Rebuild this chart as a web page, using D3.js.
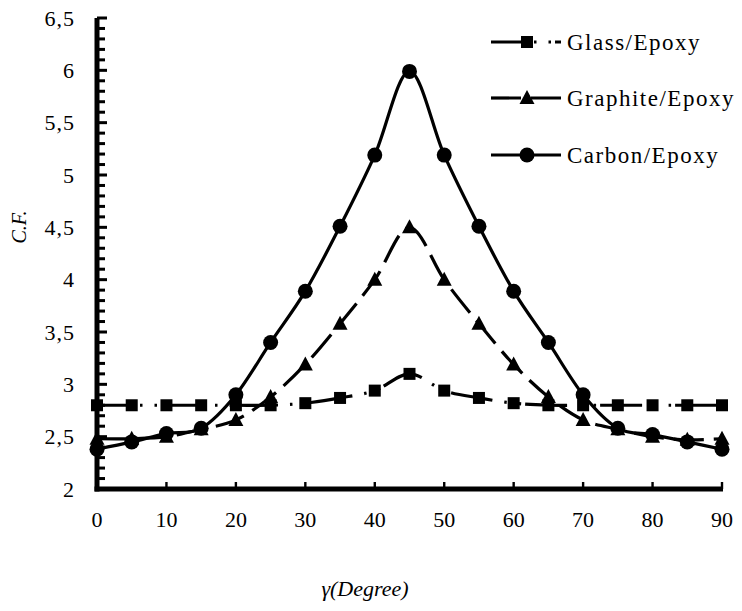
<!DOCTYPE html>
<html>
<head>
<meta charset="utf-8">
<script src="https://cdn.jsdelivr.net/npm/d3@7"></script>
<style>
  html, body { margin: 0; padding: 0; background: #fff; overflow: hidden; }
  svg { display: block; }
</style>
</head>
<body>
<svg id="chart" width="742" height="611" viewBox="0 0 742 611"></svg>
<script>
// ---- data ----
const angles = [0, 5, 10, 15, 20, 25, 30, 35, 40, 45, 50, 55, 60, 65, 70, 75, 80, 85, 90];
const glassEpoxy    = [2.80, 2.80, 2.80, 2.80, 2.80, 2.80, 2.82, 2.87, 2.94, 3.10, 2.94, 2.87, 2.82, 2.80, 2.80, 2.80, 2.80, 2.80, 2.80];
const graphiteEpoxy = [2.48, 2.48, 2.50, 2.57, 2.66, 2.88, 3.19, 3.58, 4.00, 4.50, 4.00, 3.58, 3.19, 2.88, 2.66, 2.57, 2.50, 2.47, 2.48];
const carbonEpoxy   = [2.38, 2.45, 2.53, 2.58, 2.90, 3.40, 3.89, 4.51, 5.19, 5.99, 5.19, 4.51, 3.89, 3.40, 2.90, 2.58, 2.52, 2.45, 2.38];
const seriesNames = ["Glass/Epoxy", "Graphite/Epoxy", "Carbon/Epoxy"];
const xTicks = [0, 10, 20, 30, 40, 50, 60, 70, 80, 90];
const yTicks = [2, 2.5, 3, 3.5, 4, 4.5, 5, 5.5, 6, 6.5];
const yTickLabels = ["2", "2,5", "3", "3,5", "4", "4,5", "5", "5,5", "6", "6,5"];
const xTitle = "γ(Degree)";
const yTitle = "C.F.";

const FONT = "'Liberation Serif', 'DejaVu Serif', serif";

// ---- layout ----
const svg = d3.select("#chart");
const plotLeft = 97, plotRight = 722, plotTop = 18, plotBottom = 489;
const x = d3.scaleLinear().domain([0, 90]).range([plotLeft, plotRight]);
const y = d3.scaleLinear().domain([2, 6.5]).range([plotBottom, plotTop]);

const styles = [
  { data: glassEpoxy, marker: "square", dash: "42,12,2.5,12,2.5,4", offset: 11 },
  { data: graphiteEpoxy, marker: "triangle", dash: "30,10", offset: 0 },
  { data: carbonEpoxy, marker: "circle", dash: null, offset: 0 }
];

function drawMarker(g, type, cx, cy) {
  if (type === "square") {
    g.append("rect").attr("x", cx - 6).attr("y", cy - 6).attr("width", 12).attr("height", 12).style("fill", "#000");
  } else if (type === "triangle") {
    g.append("path").attr("d", `M${cx},${cy - 8}L${cx + 7.5},${cy + 6}L${cx - 7.5},${cy + 6}Z`).style("fill", "#000");
  } else {
    g.append("circle").attr("cx", cx).attr("cy", cy).attr("r", 7.5).style("fill", "#000");
  }
}

// ---- axes (ticks from the scales) ----
const minorY = d3.range(20, 66, 1).map(v => v / 10);
const axisG = svg.append("g");
axisG.selectAll("rect.ytick").data(minorY).join("rect").attr("class", "ytick")
  .attr("x", plotLeft)
  .attr("y", d => y(d) - 1.5)
  .attr("width", d => (Math.round(d * 10) % 5 === 0 ? 10 : 8))
  .attr("height", 3)
  .style("fill", "#000");
axisG.selectAll("rect.xtick").data(xTicks.slice(1)).join("rect").attr("class", "xtick")
  .attr("x", d => x(d) - 1.2)
  .attr("y", plotBottom - 7)
  .attr("width", 2.4)
  .attr("height", 7)
  .style("fill", "#000");
axisG.append("rect").attr("x", x(0) - 2.5).attr("y", y(6.5)).attr("width", 5).attr("height", y(2) - y(6.5) + 2.5).style("fill", "#000");
axisG.append("rect").attr("x", x(0) - 2.5).attr("y", y(2) - 2.5).attr("width", x(90) - x(0) + 3.5).attr("height", 5).style("fill", "#000");

// tick labels
svg.append("g").selectAll("text").data(yTicks).join("text")
  .attr("x", 75).attr("y", d => y(d)).attr("dy", "0.35em")
  .attr("text-anchor", "end").style("font-family", FONT).style("font-size", "22px").style("letter-spacing", "1px")
  .text((d, i) => yTickLabels[i]);
svg.append("g").selectAll("text").data(xTicks).join("text")
  .attr("x", d => x(d)).attr("y", 527)
  .attr("text-anchor", "middle").style("font-family", FONT).style("font-size", "22px")
  .text(d => d);

// titles
svg.append("text").attr("transform", "translate(26,227) rotate(-90)")
  .attr("text-anchor", "middle").style("font-family", FONT).style("font-size", "20px").style("font-style", "italic")
  .text(yTitle);
svg.append("text").attr("x", 365).attr("y", 596)
  .attr("text-anchor", "middle").style("font-family", FONT).style("font-size", "22px").style("font-style", "italic")
  .text(xTitle);

// ---- series ----
const lineGen = d3.line().x((d, i) => x(angles[i])).y(d => y(d)).curve(d3.curveCardinal.tension(0));
styles.forEach(s => {
  const g = svg.append("g");
  const p = g.append("path").datum(s.data).attr("d", lineGen)
    .style("fill", "none").style("stroke", "#000").style("stroke-width", "3.2px");
  if (s.dash) p.style("stroke-dasharray", s.dash).style("stroke-dashoffset", s.offset);
  s.data.forEach((v, i) => drawMarker(g, s.marker, x(angles[i]), y(v)));
});

// ---- legend ----
const legendY = [42, 98, 155];
styles.forEach((s, i) => {
  const g = svg.append("g");
  const l = g.append("line").attr("x1", 491).attr("x2", 561).attr("y1", legendY[i]).attr("y2", legendY[i])
    .style("stroke", "#000").style("stroke-width", "3.2px");
  if (s.dash) l.style("stroke-dasharray", s.dash).style("stroke-dashoffset", s.offset);
  drawMarker(g, s.marker, 527, legendY[i]);
  g.append("text").attr("x", 567).attr("y", legendY[i]).attr("dy", "0.35em")
    .style("font-family", FONT).style("font-size", "23px").style("letter-spacing", "1.5px")
    .text(seriesNames[i]);
});
</script>
</body>
</html>
